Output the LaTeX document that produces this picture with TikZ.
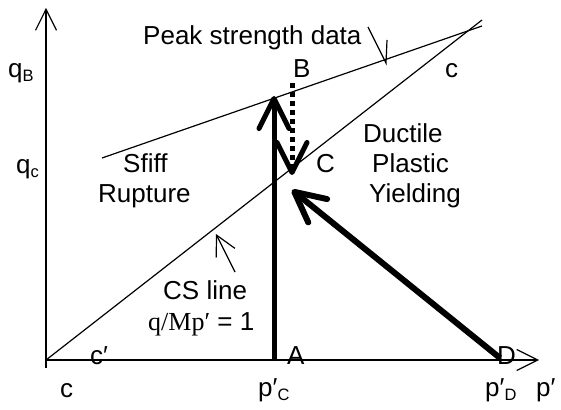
\documentclass[tikz,border=0pt]{standalone}
\usepackage{fontspec}
\setmainfont{Liberation Sans}
\newfontfamily\tnrfont{Liberation Serif}
\usetikzlibrary{arrows.meta}
\newcommand{\sbs}[1]{\raisebox{-4pt}{\fontsize{16.5}{16.5}\selectfont #1}}
\begin{document}
\begin{tikzpicture}[x=1pt,y=-1pt,
  lbl/.style={inner sep=0pt, anchor=base west, font=\fontsize{26}{30}\selectfont},
  thinln/.style={line width=1.2pt},
  axis/.style={thinln, -{Straight Barb[length=21pt,width=21pt]}},
  boldarr/.style={line width=5pt, line cap=round, -{Straight Barb[length=30pt,width=30pt,round]}},
  ptr/.style={thinln, -{Straight Barb[length=20pt,width=21pt]}}]
\useasboundingbox (0,0) rectangle (561,409);
% coordinates
\coordinate (O) at (46,360);
\coordinate (Ytick) at (46,368);
\coordinate (Ytop) at (46,8);
\coordinate (Xend) at (539,360);
\coordinate (CSend) at (482,20);
\coordinate (PKs) at (102,158);
\coordinate (PKe) at (482,26);
\coordinate (Abase) at (274,360);
\coordinate (Btip) at (274,96);
\coordinate (Btop) at (292,83);
\coordinate (Ctip) at (292,175);
\coordinate (Dbase) at (500,358);
\coordinate (Ctip2) at (292,190);
\coordinate (P1s) at (368,27);
\coordinate (P1e) at (386,63);
\coordinate (P1arm) at (387,40);
\coordinate (P2s) at (235,272);
\coordinate (P2e) at (216,234);
% axes and lines
\draw[axis] (Ytick) -- (Ytop);
\draw[axis] (O) -- (Xend);
\draw[thinln] (O) -- (CSend);
\draw[thinln] (PKs) -- (PKe);
% pointers
\draw[thinln] (P1s) -- (P1e) -- (P1arm);
\draw[ptr] (P2s) -- (P2e);
% stress paths
\draw[boldarr, line cap=butt] (Abase) -- (Btip);
\draw[boldarr, line cap=butt, dash pattern=on 5pt off 4pt] (Btop) -- (Ctip);
\draw[boldarr, line width=6pt, line cap=butt] (Dbase) -- (Ctip2);
% labels
\node[lbl] (tpeak) at (143,45) {Peak strength data};
\node[lbl] (tqb) at (8,78) {q\sbs{B}};
\node[lbl] (tqc) at (16,173) {q\sbs{c}};
\node[lbl] (tB) at (293,78) {B};
\node[lbl] (tc1) at (445,78) {c};
\node[lbl] (tsfiff) at (123,172) {Sfiff};
\node[lbl] (trup) at (98,202) {Rupture};
\node[lbl] (tC) at (316,172) {C};
\node[lbl] (tduc) at (363,142) {Ductile};
\node[lbl] (tpla) at (372,172) {Plastic};
\node[lbl] (tyie) at (369,202) {Yielding};
\node[lbl] (tcs) at (163,299) {CS line};
\node[lbl] (tcsq) at (148,330) {{\tnrfont q/Mp′} = 1};
\node[lbl] (tcp) at (90,364) {c′};
\node[lbl] (tA) at (287,364) {A};
\node[lbl] (tD) at (497,364) {D};
\node[lbl] (tc2) at (60,397) {c};
\node[lbl] (tpc) at (258,396) {p′\sbs{C}};
\node[lbl] (tpd) at (485,396) {p′\sbs{D}};
\node[lbl] (tp) at (536,396) {p′};
\end{tikzpicture}
\end{document}
